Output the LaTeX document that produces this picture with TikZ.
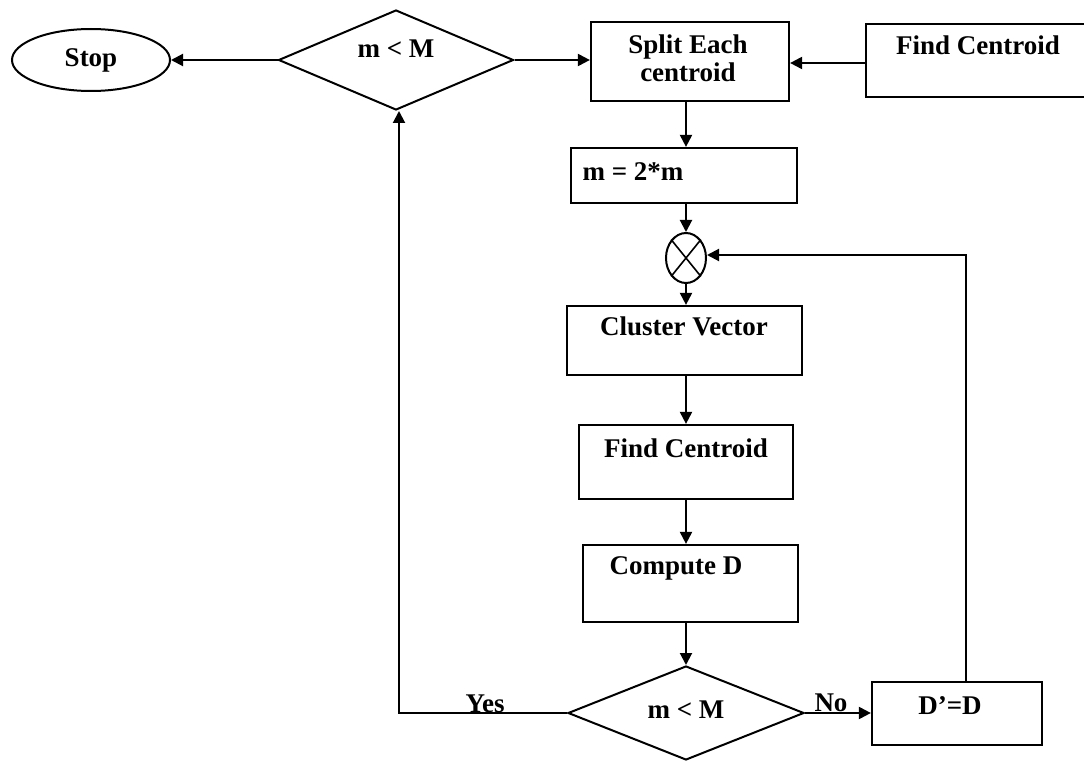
\documentclass[tikz,border=0pt]{standalone}
\usepackage{fontspec}
\setmainfont{Liberation Serif}
\usetikzlibrary{shapes.geometric,arrows.meta}
\begin{document}
\begin{tikzpicture}[x=0.5pt,y=-0.5pt,
  every node/.style={font=\fontsize{13.5}{16}\selectfont\bfseries},
  box/.style={draw,line width=1.1pt,rectangle,inner sep=0pt},
  txt/.style={inner sep=0pt,align=center},
  dec/.style={draw,line width=1pt,diamond,inner sep=0pt},
  conn/.style={line width=1pt,-{Triangle[length=6pt,width=6pt]}},
  plain/.style={line width=1pt}]
\useasboundingbox (0,0) rectangle (1084,765);
% top row
\node[draw,line width=1pt,ellipse,minimum width=79pt,minimum height=31pt,inner sep=0pt] (stop) at (91,60) {Stop};
\node[dec,minimum width=117.5pt,minimum height=50pt] (d1) at (396,60) {};
\node[txt] (d1t) at (396,49) {m < M};
\node[box,minimum width=99pt,minimum height=39.5pt] (split) at (690,61.5) {};
\node[txt] (splitt) at (688,58) {Split Each\\[-2pt]centroid};
\node[box,minimum width=110pt,minimum height=36.5pt] (fc1) at (976,60.5) {};
\node[txt] (fc1t) at (978,45) {Find Centroid};
% middle column
\node[box,minimum width=113pt,minimum height=27.5pt] (m2) at (684,175.5) {};
\node[txt] (m2t) at (633,172) {m = 2*m};
\node[draw,line width=1pt,ellipse,minimum width=20pt,minimum height=25pt,inner sep=0pt] (x) at (686,258) {};
\draw[line width=0.8pt] (x.north west) -- (x.south east) (x.north east) -- (x.south west);
\node[box,minimum width=117.5pt,minimum height=34.5pt] (cv) at (684.5,340.5) {};
\node[txt] (cvt) at (684,326) {Cluster Vector};
\node[box,minimum width=107pt,minimum height=37pt] (fc2) at (686,462) {};
\node[txt] (fc2t) at (686,448) {Find Centroid};
\node[box,minimum width=107.5pt,minimum height=38.5pt] (cd) at (690.5,583.5) {};
\node[txt] (cdt) at (676,568) {Compute D};
\node[dec,minimum width=118pt,minimum height=47pt] (d2) at (686,713) {};
\node[txt] (d2t) at (686,710) {m < M};
\node[box,minimum width=85pt,minimum height=31.5pt] (dd) at (957,713.5) {};
\node[txt] (ddt) at (950,706) {D’=D};
\coordinate (yc) at (399,713);
\coordinate (fbc) at (966,255);
% connectors
\draw[conn] (d1.west) -- (stop.east);
\draw[conn] (d1.east) -- (d1.east -| split.west);
\draw[conn] (fc1.west |- 0,63) -- (split.east |- 0,63);
\draw[conn] (split.south -| 686,0) -- (m2.north -| 686,0);
\draw[conn] (m2.south -| 686,0) -- (x.north);
\draw[conn] (x.south) -- (cv.north -| 686,0);
\draw[conn] (cv.south -| 686,0) -- (fc2.north -| 686,0);
\draw[conn] (fc2.south -| 686,0) -- (cd.north -| 686,0);
\draw[conn] (cd.south -| 686,0) -- (d2.north);
\draw[conn] (d2.west) -- (yc) -- (d1.south -| yc);
\draw[conn] (d2.east) -- (d2.east -| dd.west);
\draw[conn] (dd.north -| fbc) -- (fbc) -- (fbc -| x.east);
\node[txt] (yes) at (485,704) {Yes};
\node[txt] (no) at (831,703) {No};
\end{tikzpicture}
\end{document}
